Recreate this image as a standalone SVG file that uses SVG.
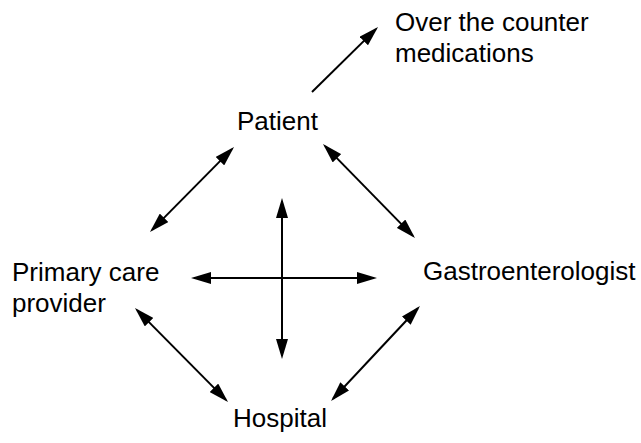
<svg xmlns="http://www.w3.org/2000/svg" width="641" height="443" viewBox="0 0 641 443">
<style>
text{font-family:"Liberation Sans",Arial,sans-serif;font-size:26px;fill:#000}
.c{stroke:#000;stroke-width:2;fill:none;marker-end:url(#ah)}
.b{marker-start:url(#ah)}
</style>
<defs>
<marker id="ah" markerUnits="userSpaceOnUse" markerWidth="20" markerHeight="12" refX="17" refY="6" orient="auto-start-reverse">
<path d="M0,0 L20,6 L0,12 Z" fill="#000"/>
</marker>
</defs>
<rect width="641" height="443" fill="#fff"/>
<g id="connectors">
<line class="c" x1="312" y1="92" x2="375.9" y2="29.1"/>
<line class="c b" x1="231.9" y1="149.1" x2="152.1" y2="229.9"/>
<line class="c b" x1="325.1" y1="146.1" x2="412.9" y2="235.9"/>
<line class="c b" x1="137.1" y1="310.1" x2="225.9" y2="399.9"/>
<line class="c b" x1="417.9" y1="308.2" x2="333.1" y2="398.8"/>
<line class="c b" x1="282" y1="201" x2="282" y2="356"/>
<line class="c b" x1="194" y1="278" x2="374" y2="278"/>
</g>
<g id="otc"><text x="395" y="31">Over the counter</text><text x="395" y="62">medications</text></g>
<g id="patient"><text x="237" y="130">Patient</text></g>
<g id="pcp"><text x="12" y="281">Primary care</text><text x="12" y="312">provider</text></g>
<g id="gastro"><text x="423" y="280">Gastroenterologist</text></g>
<g id="hospital"><text x="233" y="427">Hospital</text></g>
</svg>
